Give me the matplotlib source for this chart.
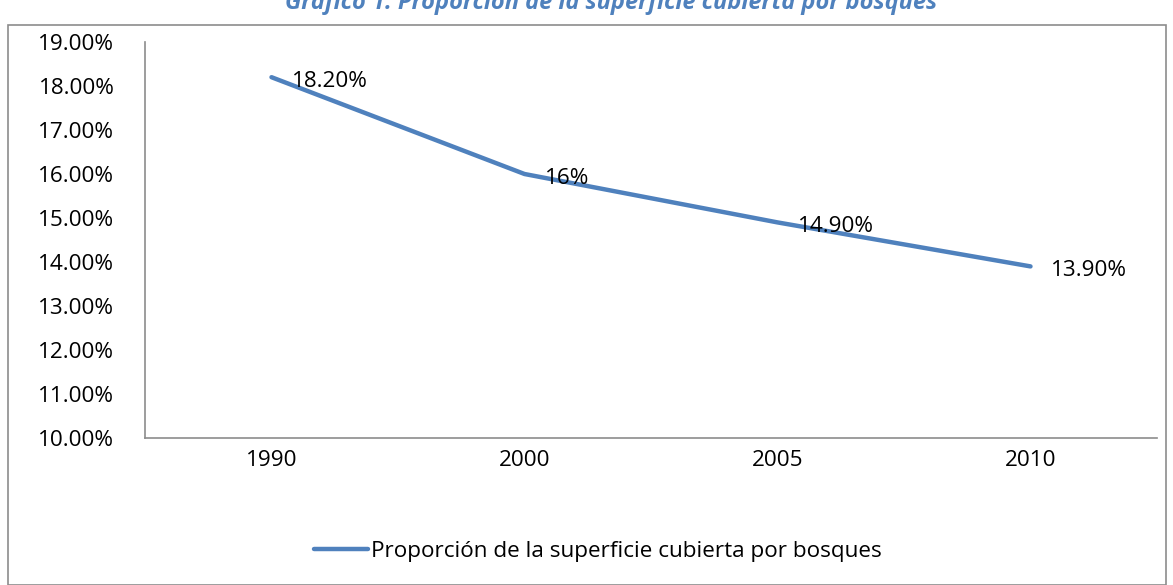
import matplotlib
matplotlib.use('Agg')
import matplotlib.pyplot as plt
from matplotlib.patches import Rectangle
from matplotlib.ticker import FuncFormatter

plt.rcParams['font.family'] = ['Open Sans', 'DejaVu Sans']

years = ['1990', '2000', '2005', '2010']
proporcion = [18.2, 16.0, 14.9, 13.9]
etiquetas = ['18.20%', '16%', '14.90%', '13.90%']
serie = 'Proporción de la superficie cubierta por bosques'
titulo = 'Gráfico 1: Proporción de la superficie cubierta por bosques'

W, H = 1173, 585
FS = 16.2
fig = plt.figure(figsize=(W / 100, H / 100), dpi=100)

# marco exterior del gráfico
fig.patches.append(Rectangle((8 / W, 0), 1158 / W, 1 - 25 / H, transform=fig.transFigure,
                             fill=False, edgecolor='#8c8c8c', linewidth=1.2))

# título recortado arriba (como en la imagen original)
fig.text(611 / W, 1 - 3 / H, titulo, ha='center', va='center', color='#4F81BD',
         fontsize=17, fontweight='bold', style='italic')

ax = fig.add_axes([145 / W, 1 - 438 / H, 1012 / W, 396 / H])
x = list(range(len(years)))
ax.plot(x, proporcion, color='#4F81BD', linewidth=3.2, solid_capstyle='round', label=serie)

for xi, v, t in zip(x, proporcion, etiquetas):
    ax.annotate(t, (xi, v), xytext=(15, -3), textcoords='offset points',
                ha='left', va='center', fontsize=FS, color='black')

ax.set_xlim(-0.5, 3.5)
ax.set_ylim(10, 19)
ax.set_yticks(range(10, 20))
ax.yaxis.set_major_formatter(FuncFormatter(lambda v, p: f'{v:.2f}%'))
ax.set_xticks(x)
ax.set_xticklabels(years)
ax.tick_params(axis='both', length=0, labelsize=FS, colors='black')
ax.tick_params(axis='x', pad=9)
ax.tick_params(axis='y', pad=22)
for s in ['top', 'right']:
    ax.spines[s].set_visible(False)
for s in ['left', 'bottom']:
    ax.spines[s].set_color('#8c8c8c')
    ax.spines[s].set_linewidth(1.2)

fig.legend(loc='center', bbox_to_anchor=(598 / W, 1 - 551 / H), frameon=False,
           fontsize=FS, handlelength=2.4, handletextpad=0.15)

fig.savefig('out.png', dpi=100)
